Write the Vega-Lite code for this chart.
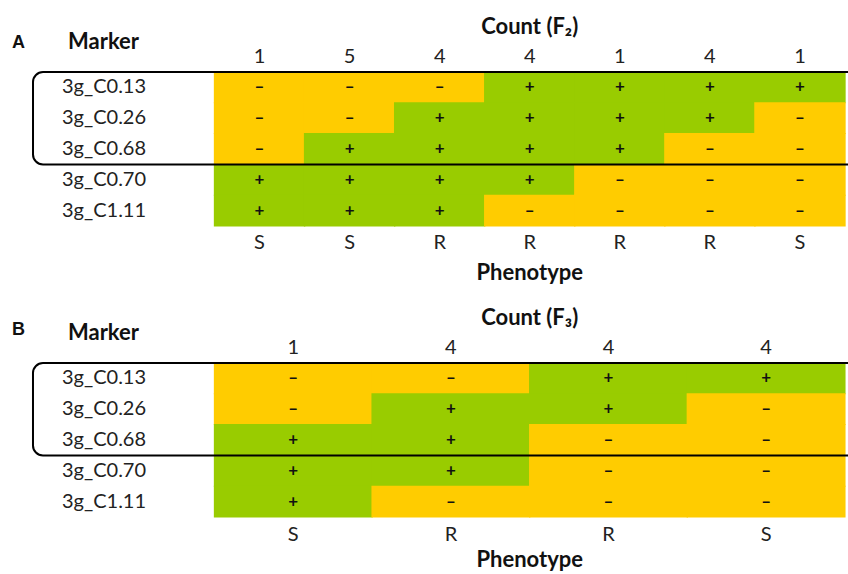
{
  "$schema": "https://vega.github.io/schema/vega-lite/v6.json",
  "padding": 0,
  "spacing": 0,
  "background": "white",
  "config": {"view": {"stroke": null}, "concat": {"spacing": 0}},
  "datasets": {
    "one": [{}],
    "markers": [
      {"marker": "3g_C0.13", "row": 1},
      {"marker": "3g_C0.26", "row": 2},
      {"marker": "3g_C0.68", "row": 3},
      {"marker": "3g_C0.70", "row": 4},
      {"marker": "3g_C1.11", "row": 5}
    ],
    "colsA": [
      {"col": 1, "count": "1", "phenotype": "S"},
      {"col": 2, "count": "5", "phenotype": "S"},
      {"col": 3, "count": "4", "phenotype": "R"},
      {"col": 4, "count": "4", "phenotype": "R"},
      {"col": 5, "count": "1", "phenotype": "R"},
      {"col": 6, "count": "4", "phenotype": "R"},
      {"col": 7, "count": "1", "phenotype": "S"}
    ],
    "colsB": [
      {"col": 1, "count": "1", "phenotype": "S"},
      {"col": 2, "count": "4", "phenotype": "R"},
      {"col": 3, "count": "4", "phenotype": "R"},
      {"col": 4, "count": "4", "phenotype": "S"}
    ],
    "cellsA": [
      {"row": 1, "col": 1, "allele": "–"}, {"row": 1, "col": 2, "allele": "–"}, {"row": 1, "col": 3, "allele": "–"}, {"row": 1, "col": 4, "allele": "+"}, {"row": 1, "col": 5, "allele": "+"}, {"row": 1, "col": 6, "allele": "+"}, {"row": 1, "col": 7, "allele": "+"},
      {"row": 2, "col": 1, "allele": "–"}, {"row": 2, "col": 2, "allele": "–"}, {"row": 2, "col": 3, "allele": "+"}, {"row": 2, "col": 4, "allele": "+"}, {"row": 2, "col": 5, "allele": "+"}, {"row": 2, "col": 6, "allele": "+"}, {"row": 2, "col": 7, "allele": "–"},
      {"row": 3, "col": 1, "allele": "–"}, {"row": 3, "col": 2, "allele": "+"}, {"row": 3, "col": 3, "allele": "+"}, {"row": 3, "col": 4, "allele": "+"}, {"row": 3, "col": 5, "allele": "+"}, {"row": 3, "col": 6, "allele": "–"}, {"row": 3, "col": 7, "allele": "–"},
      {"row": 4, "col": 1, "allele": "+"}, {"row": 4, "col": 2, "allele": "+"}, {"row": 4, "col": 3, "allele": "+"}, {"row": 4, "col": 4, "allele": "+"}, {"row": 4, "col": 5, "allele": "–"}, {"row": 4, "col": 6, "allele": "–"}, {"row": 4, "col": 7, "allele": "–"},
      {"row": 5, "col": 1, "allele": "+"}, {"row": 5, "col": 2, "allele": "+"}, {"row": 5, "col": 3, "allele": "+"}, {"row": 5, "col": 4, "allele": "–"}, {"row": 5, "col": 5, "allele": "–"}, {"row": 5, "col": 6, "allele": "–"}, {"row": 5, "col": 7, "allele": "–"}
    ],
    "cellsB": [
      {"row": 1, "col": 1, "allele": "–"}, {"row": 1, "col": 2, "allele": "–"}, {"row": 1, "col": 3, "allele": "+"}, {"row": 1, "col": 4, "allele": "+"},
      {"row": 2, "col": 1, "allele": "–"}, {"row": 2, "col": 2, "allele": "+"}, {"row": 2, "col": 3, "allele": "+"}, {"row": 2, "col": 4, "allele": "–"},
      {"row": 3, "col": 1, "allele": "+"}, {"row": 3, "col": 2, "allele": "+"}, {"row": 3, "col": 3, "allele": "–"}, {"row": 3, "col": 4, "allele": "–"},
      {"row": 4, "col": 1, "allele": "+"}, {"row": 4, "col": 2, "allele": "+"}, {"row": 4, "col": 3, "allele": "–"}, {"row": 4, "col": 4, "allele": "–"},
      {"row": 5, "col": 1, "allele": "+"}, {"row": 5, "col": 2, "allele": "–"}, {"row": 5, "col": 3, "allele": "–"}, {"row": 5, "col": 4, "allele": "–"}
    ]
  },
  "vconcat": [
    {
      "width": 848,
      "height": 291,
      "layer": [
        {
          "data": {"name": "cellsA"},
          "mark": {"type": "rect", "width": 91.4, "height": 31.8},
          "encoding": {
            "x": {"field": "col", "type": "quantitative", "axis": null, "scale": {"domain": [-1.8815, 7.5334], "nice": false, "zero": false}},
            "y": {"field": "row", "type": "quantitative", "axis": null, "scale": {"domain": [-1.8377, 7.6104], "nice": false, "zero": false, "reverse": true}},
            "color": {"field": "allele", "type": "nominal", "legend": null, "scale": {"domain": ["+", "–"], "range": ["#99CC00", "#FFCC00"]}}
          }
        },
        {
          "data": {"name": "cellsA"},
          "mark": {"type": "text", "font": "Lato", "fontSize": 17, "fontWeight": "bold", "baseline": "middle", "align": "center", "color": "#111111"},
          "encoding": {
            "x": {"field": "col", "type": "quantitative"},
            "y": {"field": "row", "type": "quantitative"},
            "text": {"field": "allele"}
          }
        },
        {
          "data": {"name": "colsA"},
          "mark": {"type": "text", "font": "Lato", "fontSize": 20, "baseline": "middle", "align": "center", "color": "#222222"},
          "encoding": {
            "x": {"field": "col", "type": "quantitative"},
            "y": {"datum": 0},
            "text": {"field": "count"}
          }
        },
        {
          "data": {"name": "colsA"},
          "mark": {"type": "text", "font": "Lato", "fontSize": 20, "baseline": "middle", "align": "center", "color": "#222222"},
          "encoding": {
            "x": {"field": "col", "type": "quantitative"},
            "y": {"datum": 6.05},
            "text": {"field": "phenotype"}
          }
        },
        {
          "data": {"name": "markers"},
          "mark": {"type": "text", "font": "Lato", "fontSize": 20, "baseline": "middle", "align": "left", "color": "#222222"},
          "encoding": {
            "x": {"datum": -1.193},
            "y": {"field": "row", "type": "quantitative"},
            "text": {"field": "marker"}
          }
        },
        {
          "data": {"name": "one"},
          "mark": {"type": "rect", "fill": null, "stroke": "black", "strokeWidth": 2, "cornerRadius": 10, "clip": true},
          "encoding": {
            "x": {"datum": -1.515},
            "x2": {"datum": 7.9},
            "y": {"datum": 0.5},
            "y2": {"datum": 3.5}
          }
        },
        {
          "data": {"name": "one"},
          "mark": {"type": "text", "text": "Count (F₂)", "font": "Lato", "fontWeight": "bold", "fontSize": 22, "baseline": "middle", "align": "center", "color": "#111111"},
          "encoding": {"x": {"datum": 4.0}, "y": {"datum": -0.95}}
        },
        {
          "data": {"name": "one"},
          "mark": {"type": "text", "text": "Phenotype", "font": "Lato", "fontWeight": "bold", "fontSize": 22, "baseline": "middle", "align": "center", "color": "#111111"},
          "encoding": {"x": {"datum": 4.0}, "y": {"datum": 7.03}}
        },
        {
          "data": {"name": "one"},
          "mark": {"type": "text", "text": "Marker", "font": "Lato", "fontWeight": "bold", "fontSize": 22, "baseline": "middle", "align": "left", "color": "#111111"},
          "encoding": {"x": {"datum": -1.126}, "y": {"datum": -0.474}}
        },
        {
          "data": {"name": "one"},
          "mark": {"type": "text", "text": "A", "font": "Liberation Sans", "fontWeight": "bold", "fontSize": 18, "baseline": "middle", "align": "left", "color": "#111111"},
          "encoding": {"x": {"datum": -1.748}, "y": {"datum": -0.44}}
        }
      ]
    },
    {
      "width": 848,
      "height": 283,
      "layer": [
        {
          "data": {"name": "cellsB"},
          "mark": {"type": "rect", "width": 158.9, "height": 31.8},
          "encoding": {
            "x": {"field": "col", "type": "quantitative", "axis": null, "scale": {"domain": [-0.861, 4.5197], "nice": false, "zero": false}},
            "y": {"field": "row", "type": "quantitative", "axis": null, "scale": {"domain": [-1.8377, 7.3506], "nice": false, "zero": false, "reverse": true}},
            "color": {"field": "allele", "type": "nominal", "legend": null, "scale": {"domain": ["+", "–"], "range": ["#99CC00", "#FFCC00"]}}
          }
        },
        {
          "data": {"name": "cellsB"},
          "mark": {"type": "text", "font": "Lato", "fontSize": 17, "fontWeight": "bold", "baseline": "middle", "align": "center", "color": "#111111"},
          "encoding": {
            "x": {"field": "col", "type": "quantitative"},
            "y": {"field": "row", "type": "quantitative"},
            "text": {"field": "allele"}
          }
        },
        {
          "data": {"name": "colsB"},
          "mark": {"type": "text", "font": "Lato", "fontSize": 20, "baseline": "middle", "align": "center", "color": "#222222"},
          "encoding": {
            "x": {"field": "col", "type": "quantitative"},
            "y": {"datum": 0},
            "text": {"field": "count"}
          }
        },
        {
          "data": {"name": "colsB"},
          "mark": {"type": "text", "font": "Lato", "fontSize": 20, "baseline": "middle", "align": "center", "color": "#222222"},
          "encoding": {
            "x": {"field": "col", "type": "quantitative"},
            "y": {"datum": 6.08},
            "text": {"field": "phenotype"}
          }
        },
        {
          "data": {"name": "markers"},
          "mark": {"type": "text", "font": "Lato", "fontSize": 20, "baseline": "middle", "align": "left", "color": "#222222"},
          "encoding": {
            "x": {"datum": -0.4676},
            "y": {"field": "row", "type": "quantitative"},
            "text": {"field": "marker"}
          }
        },
        {
          "data": {"name": "one"},
          "mark": {"type": "rect", "fill": null, "stroke": "black", "strokeWidth": 2, "cornerRadius": 10, "clip": true},
          "encoding": {
            "x": {"datum": -0.6517},
            "x2": {"datum": 4.8},
            "y": {"datum": 0.5},
            "y2": {"datum": 3.5}
          }
        },
        {
          "data": {"name": "one"},
          "mark": {"type": "text", "text": "Count (F₃)", "font": "Lato", "fontWeight": "bold", "fontSize": 22, "baseline": "middle", "align": "center", "color": "#111111"},
          "encoding": {"x": {"datum": 2.5}, "y": {"datum": -0.96}}
        },
        {
          "data": {"name": "one"},
          "mark": {"type": "text", "text": "Phenotype", "font": "Lato", "fontWeight": "bold", "fontSize": 22, "baseline": "middle", "align": "center", "color": "#111111"},
          "encoding": {"x": {"datum": 2.5}, "y": {"datum": 6.9}}
        },
        {
          "data": {"name": "one"},
          "mark": {"type": "text", "text": "Marker", "font": "Lato", "fontWeight": "bold", "fontSize": 22, "baseline": "middle", "align": "left", "color": "#111111"},
          "encoding": {"x": {"datum": -0.4296}, "y": {"datum": -0.474}}
        },
        {
          "data": {"name": "one"},
          "mark": {"type": "text", "text": "B", "font": "Liberation Sans", "fontWeight": "bold", "fontSize": 18, "baseline": "middle", "align": "left", "color": "#111111"},
          "encoding": {"x": {"datum": -0.785}, "y": {"datum": -0.571}}
        }
      ]
    }
  ]
}
